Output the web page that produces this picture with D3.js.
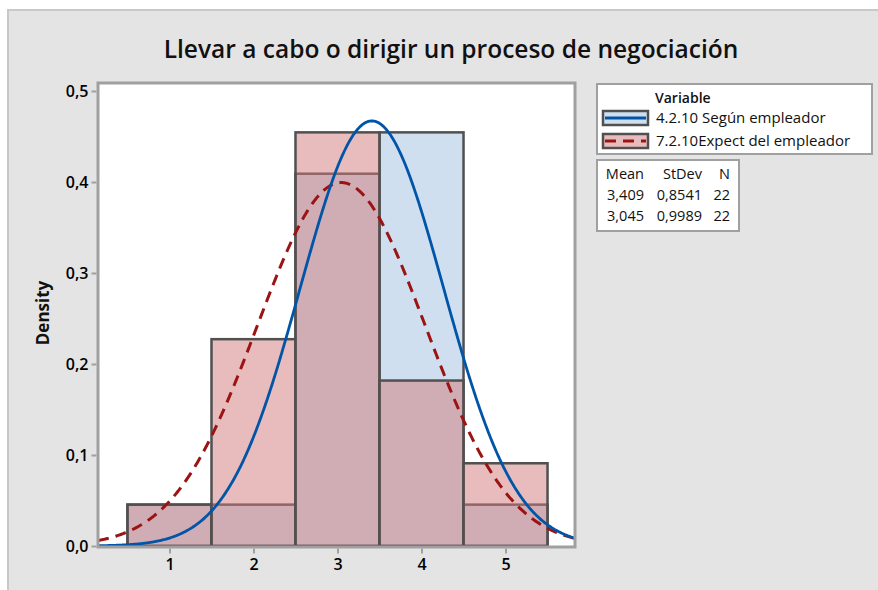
<!DOCTYPE html>
<html>
<head>
<meta charset="utf-8">
<script src="https://cdn.jsdelivr.net/npm/d3@7"></script>
<style>
  html, body { margin: 0; padding: 0; background: #fff; }
  svg text { font-family: "Open Sans", "Noto Sans", sans-serif; fill: #111; }
</style>
</head>
<body>
<div id="chart"></div>
<script>
// Histogram bins (midpoints) and counts per series
const binMids = [1, 2, 3, 4, 5];
const countsSegun = [1, 1, 9, 10, 1];
const countsExpect = [1, 5, 10, 4, 2];
const seriesNames = ['4.2.10 Según empleador', '7.2.10Expect del empleador'];
const means = [3.409, 3.045];
const stdevs = [0.8541, 0.9989];
const ns = [22, 22];
const yTicks = [0, 0.1, 0.2, 0.3, 0.4, 0.5];
const xTicks = [1, 2, 3, 4, 5];

const width = 878, height = 590;
const plot = { left: 98, top: 83, right: 575, bottom: 547 };

const svg = d3.select('#chart').append('svg')
    .attr('width', width)
    .attr('height', height);

// grey panel
svg.append('rect')
    .attr('x', 8).attr('y', 10)
    .attr('width', 872).attr('height', 585)
    .attr('fill', '#e4e4e4')
    .attr('stroke', '#c8c8c8')
    .attr('stroke-width', 2);

svg.append('text')
    .attr('x', 451).attr('y', 58)
    .attr('text-anchor', 'middle')
    .attr('font-size', '24.5px')
    .attr('font-weight', 600)
    .text('Llevar a cabo o dirigir un proceso de negociación');

const x = d3.scaleLinear().domain([0.149, 5.827]).range([plot.left, plot.right]);
const y = d3.scaleLinear().domain([0, 0.5]).range([546, 91]);

svg.append('rect')
    .attr('x', plot.left).attr('y', plot.top)
    .attr('width', plot.right - plot.left).attr('height', plot.bottom - plot.top)
    .attr('fill', '#fff');

const g = svg.append('g');

function drawBars(counts, n, fill, cls) {
    g.selectAll('rect.' + cls)
        .data(binMids.map((m, i) => ({ m, d: counts[i] / n })))
        .join('rect')
        .attr('class', cls)
        .attr('x', d => x(d.m - 0.5))
        .attr('width', d => x(d.m + 0.5) - x(d.m - 0.5))
        .attr('y', d => y(d.d))
        .attr('height', d => y(0) - y(d.d))
        .attr('fill', fill)
        .attr('stroke', '#505050')
        .attr('stroke-width', 2.5);
}
drawBars(countsSegun, ns[0], '#cfdff0', 'b0');
drawBars(countsExpect, ns[1], 'rgba(209,121,121,0.5)', 'b1');

// fitted normal curves
const normal = (v, mu, sd) => Math.exp(-0.5 * ((v - mu) / sd) ** 2) / (sd * Math.sqrt(2 * Math.PI));
const xs = d3.range(x.domain()[0], x.domain()[1] + 0.001, 0.01);
const line = d3.line().x(d => x(d[0])).y(d => y(d[1]));

svg.append('path')
    .datum(xs.map(v => [v, normal(v, means[1], stdevs[1])]))
    .attr('d', line)
    .attr('fill', 'none')
    .attr('stroke', '#9b1414')
    .attr('stroke-width', 3)
    .attr('stroke-dasharray', '11,7');

svg.append('path')
    .datum(xs.map(v => [v, normal(v, means[0], stdevs[0])]))
    .attr('d', line)
    .attr('fill', 'none')
    .attr('stroke', '#0055a8')
    .attr('stroke-width', 2.8);

// frame
svg.append('path')
    .attr('d', `M${plot.left},${plot.top}H${plot.right}V${plot.bottom}H${plot.left}Z`)
    .attr('fill', 'none')
    .attr('stroke', '#a0a0a0')
    .attr('stroke-width', 3);

// axes
const yAxis = svg.append('g')
    .attr('transform', `translate(${plot.left - 1.5},0)`)
    .call(d3.axisLeft(y).tickValues(yTicks).tickSize(5).tickFormat(d => d3.format('.1f')(d).replace('.', ',')));
const xAxis = svg.append('g')
    .attr('transform', `translate(0,${plot.bottom + 1.5})`)
    .call(d3.axisBottom(x).tickValues(xTicks).tickSize(5).tickFormat(d3.format('d')));
[yAxis, xAxis].forEach(a => {
    a.select('.domain').remove();
    a.selectAll('line').attr('stroke', '#a0a0a0').attr('stroke-width', 2);
    a.selectAll('text')
        .style('font-size', '16px')
        .style('font-weight', 600)
        .style('fill', '#000');
});
yAxis.selectAll('text').attr('x', -8);
xAxis.selectAll('text').attr('y', 10);

svg.append('text')
    .attr('transform', 'translate(49,313) rotate(-90)')
    .attr('text-anchor', 'middle')
    .attr('font-size', '17px')
    .attr('font-weight', 'bold')
    .text('Density');

// legend
const leg = svg.append('g');
leg.append('rect')
    .attr('x', 597).attr('y', 84).attr('width', 275).attr('height', 70)
    .attr('fill', '#fff').attr('stroke', '#a0a0a0').attr('stroke-width', 2);
leg.append('text')
    .attr('x', 655).attr('y', 103)
    .attr('font-size', '14px').attr('font-weight', 600)
    .text('Variable');
const swatchFill = ['#cfdff0', '#e8bcbc'];
const swatchLine = ['#0055a8', '#9b1414'];
seriesNames.forEach((name, i) => {
    const yy = 117 + i * 23;
    leg.append('rect')
        .attr('x', 603).attr('y', yy - 6).attr('width', 45).attr('height', 14)
        .attr('fill', swatchFill[i]).attr('stroke', '#505050').attr('stroke-width', 2.5);
    leg.append('line')
        .attr('x1', 605).attr('x2', 646).attr('y1', yy + 1).attr('y2', yy + 1)
        .attr('stroke', swatchLine[i]).attr('stroke-width', 3)
        .attr('stroke-dasharray', i === 1 ? '11,7' : null);
    leg.append('text')
        .attr('x', 656).attr('y', yy + 6)
        .attr('font-size', '15px')
        .text(name);
});

// stats table
const tab = svg.append('g');
tab.append('rect')
    .attr('x', 597).attr('y', 160).attr('width', 142).attr('height', 71)
    .attr('fill', '#fff').attr('stroke', '#a0a0a0').attr('stroke-width', 2);
const colRight = [644, 702, 730];
const fmt = (v, d) => v.toFixed(d).replace('.', ',');
const rows = [['Mean', 'StDev', 'N']].concat(means.map((m, i) => [fmt(m, 3), fmt(stdevs[i], 4), String(ns[i])]));
rows.forEach((r, ri) => {
    r.forEach((t, ci) => {
        tab.append('text')
            .attr('x', colRight[ci]).attr('y', 179 + ri * 21)
            .attr('text-anchor', 'end')
            .attr('font-size', '14.5px')
            .attr('font-weight', ri === 0 ? 500 : null)
            .text(t);
    });
});
</script>
</body>
</html>
